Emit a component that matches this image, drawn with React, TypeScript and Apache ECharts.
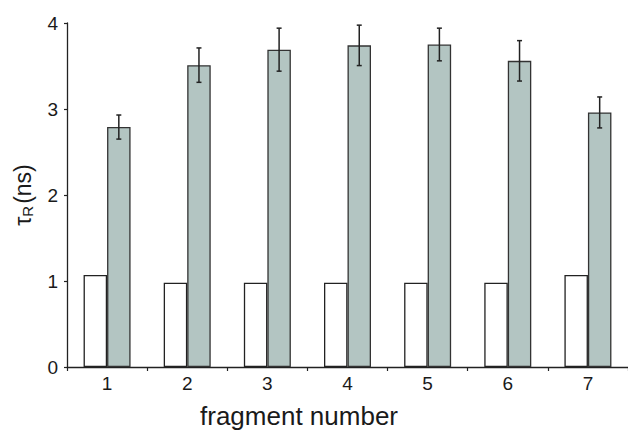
import React, { useEffect, useRef } from "react";
import * as echarts from "echarts";

const categories = ["1", "2", "3", "4", "5", "6", "7"];
const controlValues = [1.07, 0.98, 0.98, 0.98, 0.98, 0.98, 1.07];
const tauValues = [2.79, 3.51, 3.69, 3.74, 3.75, 3.56, 2.96];
const tauErrors = [0.14, 0.2, 0.25, 0.235, 0.19, 0.235, 0.18];
const yTicks = [0, 1, 2, 3, 4];

const BAR_W = 23.5;

export default function App() {
  const ref = useRef<HTMLDivElement>(null);
  useEffect(() => {
    if (!ref.current) return;
    const chart = echarts.init(ref.current, null, { renderer: "svg" });
    const font = "Liberation Sans, Arial, sans-serif";
    chart.setOption({
      animation: false,
      backgroundColor: "#ffffff",
      textStyle: { fontFamily: font },
      grid: { left: 67, top: 23, bottom: 64, right: -5, containLabel: false },
      xAxis: {
        type: "category",
        data: categories,
        boundaryGap: true,
        axisLine: { show: true, lineStyle: { color: "#222", width: 1.3 } },
        axisTick: { show: true, inside: false, length: 4, lineStyle: { color: "#222", width: 1.2 } },
        axisLabel: { color: "#1a1a1a", fontSize: 19, margin: 7, fontFamily: font },
        splitLine: { show: false },
      },
      yAxis: {
        type: "value",
        min: yTicks[0],
        max: yTicks[yTicks.length - 1],
        interval: 1,
        axisLine: { show: true, lineStyle: { color: "#222", width: 1.3 } },
        axisTick: { show: true, inside: false, length: 3, lineStyle: { color: "#222", width: 1.2 } },
        axisLabel: { color: "#1a1a1a", fontSize: 19, margin: 9, fontFamily: font },
        splitLine: { show: false },
        name: "{t|τ}{s|R}{t|(ns)}",
        nameLocation: "middle",
        nameRotate: 90,
        nameGap: 32,
        nameTextStyle: {
          rich: {
            t: { fontSize: 23, color: "#1a1a1a", fontFamily: font },
            s: { fontSize: 15, color: "#1a1a1a", fontFamily: font, verticalAlign: "bottom", padding: [9, 2, 0, 0] },
          },
        },
      },
      graphic: [
        {
          type: "text",
          x: 299,
          y: 416,
          style: {
            text: "fragment number",
            fontSize: 26,
            fill: "#1a1a1a",
            fontFamily: font,
            align: "center",
            verticalAlign: "middle",
          },
        },
      ],
      series: [
        {
          type: "bar",
          data: controlValues,
          barWidth: BAR_W,
          barGap: "0%",
          itemStyle: { color: "#ffffff", borderColor: "#222", borderWidth: 1.3 },
        },
        {
          type: "bar",
          data: tauValues,
          barWidth: BAR_W,
          barGap: "0%",
          itemStyle: { color: "#b3c5c2", borderColor: "#333", borderWidth: 1.3 },
        },
        {
          type: "custom",
          data: tauValues.map((v, i) => [i, v - tauErrors[i], v + tauErrors[i]]),
          renderItem: (params: any, api: any) => {
            const idx = api.value(0);
            const lo = api.coord([idx, api.value(1)]);
            const hi = api.coord([idx, api.value(2)]);
            const x = lo[0] + BAR_W / 2;
            const cap = 2.5;
            const st = { stroke: "#222", lineWidth: 1.5 };
            return {
              type: "group",
              children: [
                { type: "line", shape: { x1: x, y1: lo[1], x2: x, y2: hi[1] }, style: st },
                { type: "line", shape: { x1: x - cap, y1: lo[1], x2: x + cap, y2: lo[1] }, style: st },
                { type: "line", shape: { x1: x - cap, y1: hi[1], x2: x + cap, y2: hi[1] }, style: st },
              ],
            };
          },
          z: 10,
        },
      ],
    });
    return () => chart.dispose();
  }, []);
  return <div ref={ref} style={{ width: 628, height: 431, position: "absolute", left: 0, top: 0 }} />;
}
